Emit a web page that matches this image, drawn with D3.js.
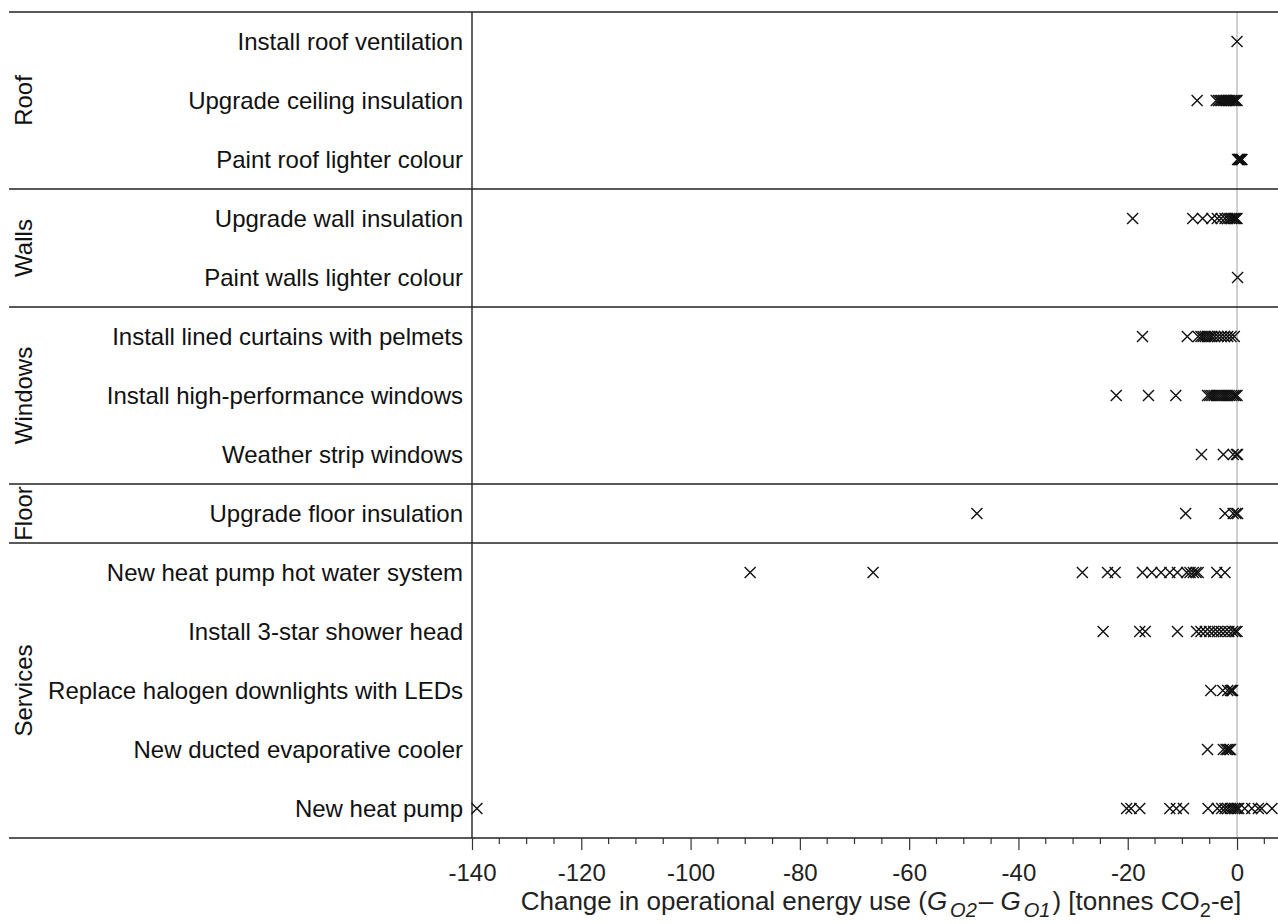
<!DOCTYPE html>
<html><head><meta charset="utf-8">
<script src="https://cdn.jsdelivr.net/npm/d3@7"></script>
<style>
html,body{margin:0;padding:0;background:#fff;}
svg{display:block;font-family:"Liberation Sans",Arial,sans-serif;}
</style></head>
<body>
<svg id="chart" width="1278" height="924"></svg>
<script>
// ---- data ----
const categories = [
  "Install roof ventilation","Upgrade ceiling insulation","Paint roof lighter colour",
  "Upgrade wall insulation","Paint walls lighter colour",
  "Install lined curtains with pelmets","Install high-performance windows","Weather strip windows",
  "Upgrade floor insulation",
  "New heat pump hot water system","Install 3-star shower head","Replace halogen downlights with LEDs",
  "New ducted evaporative cooler","New heat pump"
];
const groups = ["Roof","Walls","Windows","Floor","Services"];
const groupSizes = [3,2,3,1,5];

const roofVentilation = [0];
const ceilingInsulation = [-7.3,-3.8,-3.4,-3.1,-2.8,-2.5,-2.2,-1.9,-1.6,-1.3,-1.0,-0.7,-0.4,-0.2,0];
const roofColour = [0.1,0.3,0.4,0.5,0.6,0.8,0.9];
const wallInsulation = [-19.1,-8.1,-6.3,-4.6,-3.6,-2.9,-2.2,-1.7,-1.3,-1.0,-0.7,-0.4,-0.2,0];
const wallColour = [0.1];
const curtains = [-17.3,-9.1,-7.1,-6.6,-6.2,-5.8,-5.4,-5.0,-4.6,-4.1,-3.5,-2.9,-2.3,-1.7,-1.1,-0.5];
const hpWindows = [-22.1,-16.2,-11.2,-5.4,-5.0,-4.6,-4.2,-3.8,-3.4,-3.0,-2.6,-2.2,-1.8,-1.4,-1.0,-0.6,-0.3,0];
const weatherStrip = [-6.5,-2.5,-0.7,-0.1,0.1];
const floorInsulation = [-47.6,-9.4,-2.2,-0.7,-0.2,0.1];
const hotWater = [-89.1,-66.6,-28.3,-23.7,-22.3,-17.3,-15.6,-13.9,-12.3,-10.9,-9.2,-8.6,-8.0,-7.5,-7.1,-3.7,-2.2];
const showerHead = [-24.5,-17.8,-16.8,-10.9,-7.4,-6.6,-5.8,-5.0,-4.3,-3.6,-2.9,-2.2,-1.5,-0.8,-0.3,0];
const ledLights = [-4.8,-2.6,-1.7,-1.2,-1.0,-0.8];
const evapCooler = [-5.4,-2.5,-2.0,-1.7,-1.4,-1.2];
const heatPump = [-139.1,-20.2,-19.4,-17.8,-12.3,-11.1,-9.8,-5.3,-3.6,-2.8,-2.2,-1.7,-1.2,-0.8,-0.4,0,0.3,1.4,2.7,3.9,4.5,6.4];

const seriesValues = [roofVentilation,ceilingInsulation,roofColour,wallInsulation,wallColour,
  curtains,hpWindows,weatherStrip,floorInsulation,hotWater,showerHead,ledLights,evapCooler,heatPump];

const majorTicks = [-140,-120,-100,-80,-60,-40,-20,0];
const xDomain = [-140, 7.5];

// ---- layout ----
const W = 1278, H = 924;
const plotL = 472, plotR = 1278, plotT = 12, plotB = 838, sepLeft = 9;
const svg = d3.select("#chart");

const x = d3.scaleLinear().domain(xDomain).range([plotL, plotR]);
const y = d3.scaleBand().domain(categories).range([plotT, plotB]);

// zero reference line
svg.append("line").attr("x1", x(0)).attr("x2", x(0)).attr("y1", plotT).attr("y2", plotB)
  .attr("stroke", "#b0b0b0").attr("stroke-width", 1.2);

// group separators
let acc = 0;
const groupInfo = groups.map((g,i) => {
  const start = acc; acc += groupSizes[i];
  return {name:g, first:categories[start], last:categories[acc-1]};
});
const bounds = [plotT].concat(groupInfo.map(g => y(g.last) + y.bandwidth()));
svg.selectAll("line.sep").data(bounds).join("line").attr("class","sep")
  .attr("x1", sepLeft).attr("x2", W).attr("y1", d => d).attr("y2", d => d)
  .attr("stroke", "#222").attr("stroke-width", 1.4);

// left vertical axis line
svg.append("line").attr("x1", plotL).attr("x2", plotL).attr("y1", plotT).attr("y2", plotB)
  .attr("stroke", "#222").attr("stroke-width", 1.4);

// group labels
svg.selectAll("text.grp").data(groupInfo).join("text").attr("class","grp")
  .attr("transform", d => {
    const cy = (y(d.first) + y(d.last) + y.bandwidth()) / 2;
    return `translate(23,${cy}) rotate(-90)`;
  })
  .attr("text-anchor","middle").attr("dominant-baseline","central")
  .attr("font-size", 24).attr("fill","#111").text(d => d.name);

// category labels
svg.selectAll("text.cat").data(categories).join("text").attr("class","cat")
  .attr("x", plotL - 9).attr("y", d => y(d) + y.bandwidth()/2)
  .attr("text-anchor","end").attr("dominant-baseline","central")
  .attr("font-size", 24).attr("fill","#111").text(d => d);

// x axis
const axis = d3.axisBottom(x).tickValues(majorTicks).tickSize(12).tickPadding(14)
  .tickFormat(d3.format("d"));
const gAx = svg.append("g").attr("transform", `translate(0,${plotB})`).call(axis);
gAx.select(".domain").remove();
gAx.selectAll(".tick line").attr("stroke","#333").attr("stroke-width",1.2);
gAx.selectAll(".tick text").attr("font-size", 24).attr("fill","#222")
  .attr("font-family","Liberation Sans, Arial, sans-serif")
  .text(d => d < 0 ? "-" + Math.abs(d) : d);
const minor = d3.range(-140, 7.5, 5).filter(v => v % 20 !== 0);
svg.append("g").selectAll("line").data(minor).join("line")
  .attr("x1", d => x(d)).attr("x2", d => x(d)).attr("y1", plotB).attr("y2", plotB + 6)
  .attr("stroke","#333").attr("stroke-width",1.2);

// axis title
const title = svg.append("text").attr("x", 881).attr("y", 910)
  .attr("text-anchor","middle").attr("font-size", 26).attr("fill","#222");
title.append("tspan").text("Change in operational energy use (");
title.append("tspan").attr("font-style","italic").text("G");
title.append("tspan").attr("font-style","italic").attr("font-size",20).attr("dx",3).attr("dy",7).text("O2");
title.append("tspan").attr("dy",-7).attr("dx",2).text("\u2013 ");
title.append("tspan").attr("font-style","italic").text("G");
title.append("tspan").attr("font-style","italic").attr("font-size",20).attr("dx",3).attr("dy",7).text("O1");
title.append("tspan").attr("dy",-7).attr("dx",2).text(") [tonnes CO");
title.append("tspan").attr("font-size",20).attr("dy",7).text("2");
title.append("tspan").attr("dy",-7).text("-e]");

// points
const crossType = {
  draw(ctx, size) {
    const r = Math.sqrt(size) / 2;
    ctx.moveTo(-r,-r); ctx.lineTo(r,r);
    ctx.moveTo(-r,r); ctx.lineTo(r,-r);
  }
};
const sym = d3.symbol().type(crossType).size(121);
const pts = [];
categories.forEach((c,i) => seriesValues[i].forEach(v => pts.push({c, v})));
svg.append("g").selectAll("path").data(pts).join("path")
  .attr("transform", d => `translate(${x(d.v)},${y(d.c) + y.bandwidth()/2})`)
  .attr("d", sym).attr("fill","none").attr("stroke","#111").attr("stroke-width",1.4);
</script>
</body></html>
